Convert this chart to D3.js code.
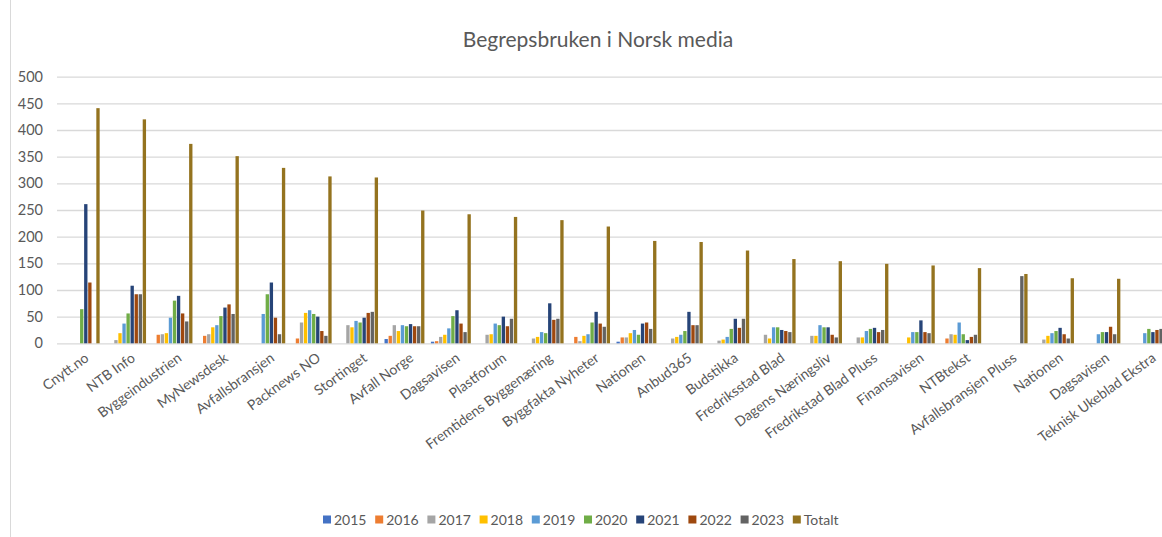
<!DOCTYPE html>
<meta charset="utf-8">
<style>
body { margin: 0; background: white; }
text { font-family: Lato, "Open Sans", sans-serif; fill: #595959; }
</style>
<body>
<script src="https://cdn.jsdelivr.net/npm/d3@7"></script>
<script>
var categories = ['Cnytt.no', 'NTB Info', 'Byggeindustrien', 'MyNewsdesk', 'Avfallsbransjen', 'Packnews NO',
    'Stortinget', 'Avfall Norge', 'Dagsavisen', 'Plastforum', 'Fremtidens Byggenæring', 'Byggfakta Nyheter',
    'Nationen', 'Anbud365', 'Budstikka', 'Fredriksstad Blad', 'Dagens Næringsliv', 'Fredrikstad Blad Pluss',
    'Finansavisen', 'NTBtekst', 'Avfallsbransjen Pluss', 'Nationen', 'Dagsavisen', 'Teknisk Ukeblad Ekstra']

var seriesNames = ['2015', '2016', '2017', '2018', '2019', '2020', '2021', '2022', '2023', 'Totalt']

var v2015 = [0, 0, 0, 0, 0, 0, 0, 8, 3, 0, 0, 0, 3, 0, 0, 0, 0, 0, 0, 0, 0, 0, 0, 0]
var v2016 = [0, 0, 16, 14, 0, 9, 0, 14, 4, 0, 0, 12, 11, 0, 0, 0, 0, 0, 0, 9, 0, 0, 0, 0]
var v2017 = [0, 6, 17, 17, 0, 39, 34, 34, 12, 16, 9, 4, 11, 9, 5, 16, 14, 11, 0, 17, 0, 7, 0, 0]
var v2018 = [0, 19, 19, 30, 0, 57, 30, 23, 16, 17, 12, 14, 19, 12, 7, 9, 14, 11, 11, 16, 0, 14, 0, 0]
var v2019 = [0, 37, 48, 34, 55, 62, 42, 34, 28, 37, 21, 17, 25, 16, 12, 30, 34, 23, 21, 39, 0, 19, 17, 19]
var v2020 = [64, 56, 80, 51, 92, 55, 39, 32, 51, 34, 19, 39, 16, 23, 27, 30, 30, 27, 21, 17, 0, 23, 21, 27]
var v2021 = [261, 108, 89, 67, 114, 50, 48, 36, 62, 50, 75, 59, 37, 59, 46, 25, 30, 29, 43, 6, 0, 29, 21, 21]
var v2022 = [114, 92, 56, 73, 48, 23, 57, 32, 37, 32, 44, 37, 39, 34, 29, 23, 16, 21, 21, 12, 0, 17, 31, 25]
var v2023 = [0, 92, 41, 55, 17, 14, 59, 32, 21, 46, 46, 31, 27, 34, 46, 21, 11, 25, 19, 16, 126, 9, 17, 27]
var vTotalt = [441, 420, 374, 351, 329, 313, 311, 249, 242, 237, 231, 219, 192, 190, 174, 158, 154, 149, 146, 141, 130, 122, 121, 120]

var yTicks = [0, 50, 100, 150, 200, 250, 300, 350, 400, 450, 500]

var colors = ['#4472C4', '#ED7D31', '#A5A5A5', '#FFC000', '#5B9BD5', '#70AD47', '#264478', '#9E480E', '#636363', '#94731F']

var values = [v2015, v2016, v2017, v2018, v2019, v2020, v2021, v2022, v2023, vTotalt]

var width = 1162
var height = 537

var svg = d3.select('body').append('svg')
    .attr('width', width)
    .attr('height', height)

// chart frame edge on the left
svg.append('line')
    .attr('x1', 10.5).attr('x2', 10.5)
    .attr('y1', 0).attr('y2', height)
    .attr('stroke', '#d9d9d9')

svg.append('text')
    .attr('x', 598)
    .attr('y', 47)
    .attr('text-anchor', 'middle')
    .style('font-size', '21px')
    .text('Begrepsbruken i Norsk media')

var y = d3.scaleLinear().domain([0, 500]).range([343.3, 76.7])

// categories run past the right edge, the picture is cropped there
var x0 = d3.scaleBand()
    .domain(d3.range(categories.length))
    .range([56.5, 1170])
    .paddingInner(0.14)
    .paddingOuter(0.07)

var x1 = d3.scaleBand()
    .domain(seriesNames)
    .range([0, x0.bandwidth()])
    .paddingInner(0.18)

var yAxis = d3.axisLeft(y)
    .tickValues(yTicks)
    .tickSize(-(width - 57))
    .tickPadding(14)

var gy = svg.append('g')
    .attr('transform', 'translate(57,0)')
    .call(yAxis)

gy.select('.domain').remove()
gy.selectAll('line').attr('stroke', '#d9d9d9').attr('stroke-width', 1.3)
gy.selectAll('text').style('font-size', '14.5px').style('fill', '#595959')

var groups = svg.selectAll('.grp')
    .data(categories)
    .enter().append('g')
    .attr('class', 'grp')
    .attr('transform', function (d, i) { return 'translate(' + x0(i) + ',0)' })

groups.selectAll('rect')
    .data(function (d, i) {
        return seriesNames.map(function (s, k) { return { s: s, k: k, v: values[k][i] } })
    })
    .enter().append('rect')
    .filter(function (d) { return d.v > 0 })
    .attr('x', function (d) { return x1(d.s) })
    .attr('width', x1.bandwidth())
    .attr('y', function (d) { return y(d.v) })
    .attr('height', function (d) { return y(0) - y(d.v) })
    .attr('fill', function (d) { return colors[d.k] })

svg.selectAll('.xlab')
    .data(categories)
    .enter().append('text')
    .attr('class', 'xlab')
    .attr('text-anchor', 'end')
    .style('font-size', '14px')
    .attr('transform', function (d, i) {
        var cx = x0(i) + x0.bandwidth() / 2 + 10
        return 'translate(' + cx + ',360) rotate(-36)'
    })
    .text(function (d) { return d })

var legend = svg.selectAll('.leg')
    .data(seriesNames)
    .enter().append('g')
    .attr('class', 'leg')
    .attr('transform', function (d, i) { return 'translate(' + (323 + i * 52.2) + ',515.5)' })

legend.append('rect')
    .attr('width', 8)
    .attr('height', 8)
    .attr('fill', function (d, i) { return colors[i] })

legend.append('text')
    .attr('x', 11)
    .attr('y', 9)
    .style('font-size', '14px')
    .text(function (d) { return d })
</script>
</body>
